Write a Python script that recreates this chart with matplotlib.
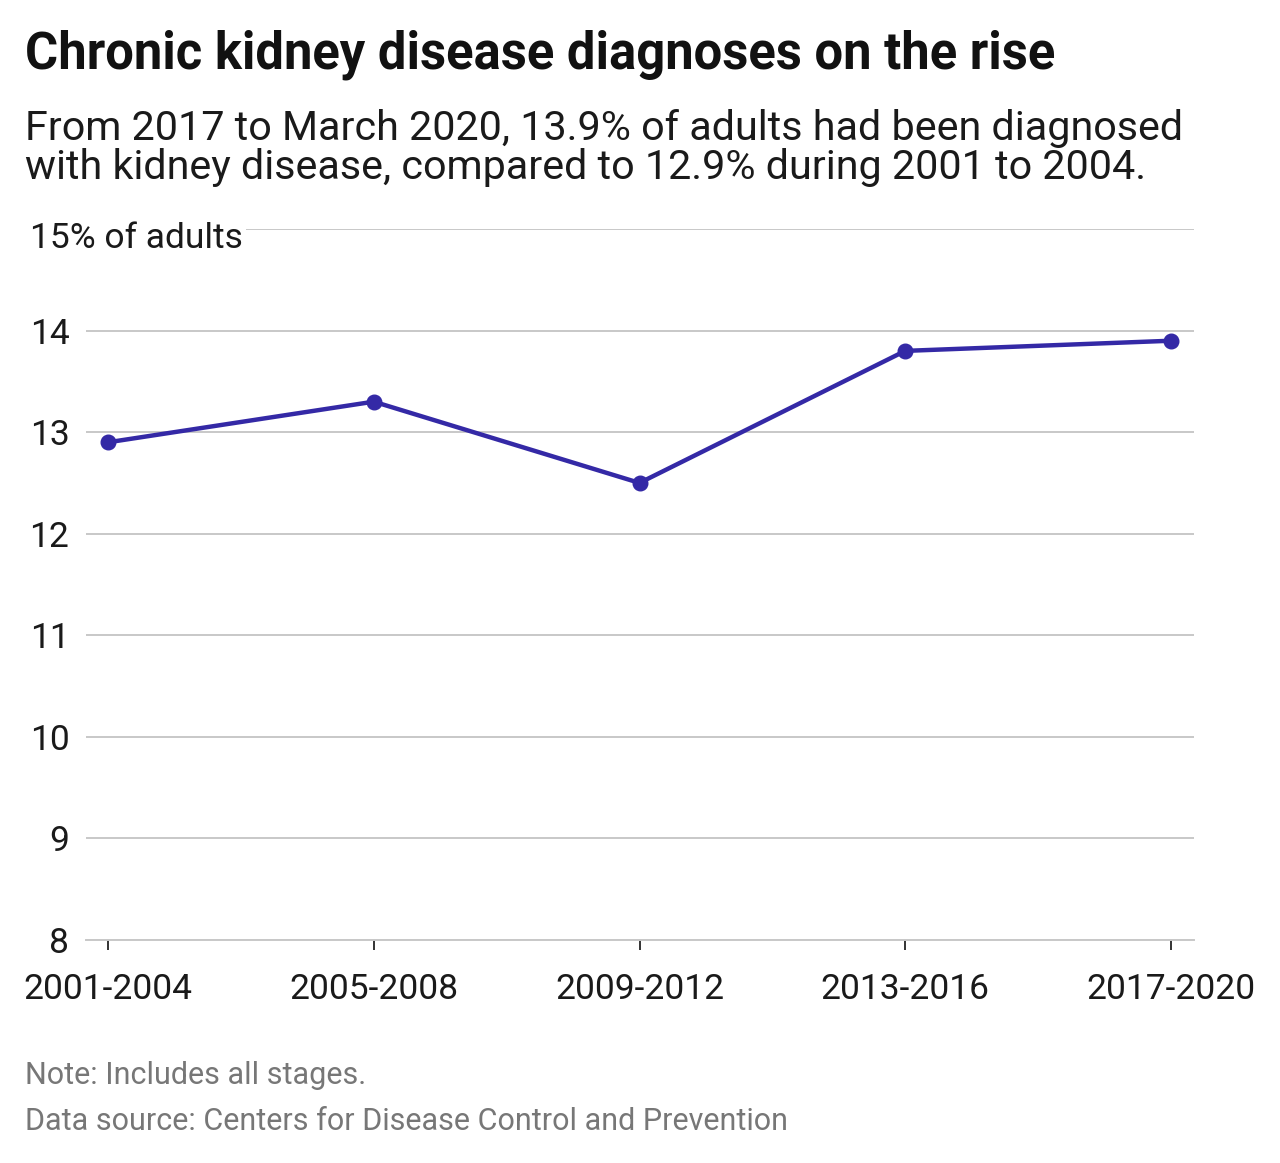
import matplotlib
matplotlib.use("Agg")
import matplotlib.pyplot as plt
import matplotlib.transforms as mtrans

periods = ["2001-2004", "2005-2008", "2009-2012", "2013-2016", "2017-2020"]
values = [12.9, 13.3, 12.5, 13.8, 13.9]
yticks = [8, 9, 10, 11, 12, 13, 14, 15]
ytick_labels = ["8", "9", "10", "11", "12", "13", "14", ""]

plt.rcParams['font.family'] = ['Roboto', 'DejaVu Sans']

W, H = 1280, 1163
fig = plt.figure(figsize=(W / 100, H / 100), dpi=100)
ax = fig.add_axes([86 / W, 1 - 940 / H, (1194 - 86) / W, (940 - 229) / H])

x = list(range(len(periods)))
ax.plot(x, values, color="#3429a6", linewidth=3.2, marker="o", markersize=10.5,
        zorder=5, clip_on=False)

ax.set_ylim(8, 15)
ax.set_xlim(-22 / 265.75, 4 + 23 / 265.75)
ax.set_yticks(yticks)
ax.set_yticklabels(ytick_labels)
ax.set_xticks(x)
ax.set_xticklabels(periods)

ax.grid(axis="y", color="#c8c8c8", linewidth=1.4, zorder=0)
ax.grid(axis="x", visible=False)
for s in ["top", "right", "left"]:
    ax.spines[s].set_visible(False)
ax.spines["bottom"].set_color("#c8c8c8")
ax.spines["bottom"].set_linewidth(1.4)

ax.tick_params(axis="y", length=0, pad=12, labelsize=25.5, labelcolor="#1a1a1a")
ax.tick_params(axis="x", length=7, width=1.4, color="#333333", pad=17,
               labelsize=25.5, labelcolor="#1a1a1a")

trans = mtrans.blended_transform_factory(fig.transFigure, ax.transData)
trans = trans + mtrans.ScaledTranslation(0, -9 / 100, fig.dpi_scale_trans)
ax.text(30 / W, 15, "15% of adults", transform=trans, fontsize=25.5,
        color="#1a1a1a", va="center", ha="left", zorder=10,
        bbox=dict(facecolor="white", edgecolor="none", pad=2))

fig.text(25 / W, 1 - 55 / H, "Chronic kidney disease diagnoses on the rise",
         fontsize=36.5, fontweight="bold", color="#111111", va="center", ha="left")
fig.text(25 / W, 1 - 148 / H,
         "From 2017 to March 2020, 13.9% of adults had been diagnosed\n"
         "with kidney disease, compared to 12.9% during 2001 to 2004.",
         fontsize=29.7, color="#1a1a1a", va="center", ha="left", linespacing=1.02)

fig.text(25 / W, 1 - 1075 / H, "Note: Includes all stages.", fontsize=22,
         color="#777777", va="center", ha="left")
fig.text(25 / W, 1 - 1121 / H, "Data source: Centers for Disease Control and Prevention",
         fontsize=22, color="#777777", va="center", ha="left")

fig.savefig("out.png", dpi=100, facecolor="white")
